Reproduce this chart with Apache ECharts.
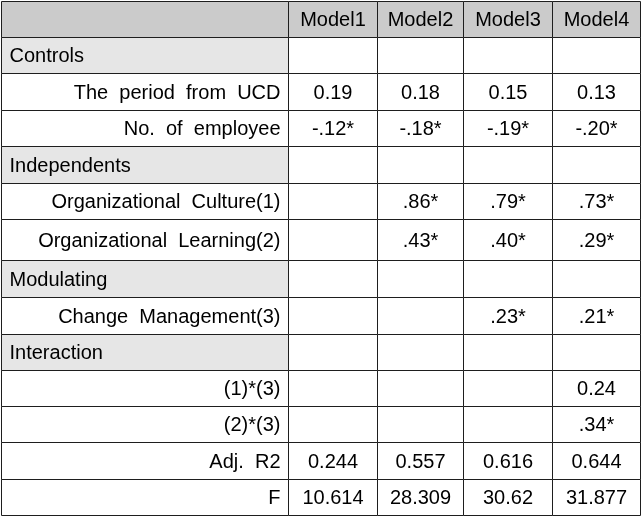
<!DOCTYPE html>
<html>
<head>
<meta charset="utf-8">
<script src="https://cdn.jsdelivr.net/npm/echarts@6/dist/echarts.min.js"></script>
<style>html,body{margin:0;padding:0;background:#fff}#c{width:643px;height:516px}</style>
</head>
<body>
<div id="c"></div>
<script>
// ---- data ----
var models = ['Model1', 'Model2', 'Model3', 'Model4'];
var rowLabels = ['Controls', 'The  period  from  UCD', 'No.  of  employee', 'Independents',
  'Organizational  Culture(1)', 'Organizational  Learning(2)', 'Modulating',
  'Change  Management(3)', 'Interaction', '(1)*(3)', '(2)*(3)', 'Adj.  R2', 'F'];
var sectionRows = ['Controls', 'Independents', 'Modulating', 'Interaction'];
var model1 = ['', '0.19', '-.12*', '', '', '', '', '', '', '', '', '0.244', '10.614'];
var model2 = ['', '0.18', '-.18*', '', '.86*', '.43*', '', '', '', '', '', '0.557', '28.309'];
var model3 = ['', '0.15', '-.19*', '', '.79*', '.40*', '', '.23*', '', '', '', '0.616', '30.62'];
var model4 = ['', '0.13', '-.20*', '', '.73*', '.29*', '', '.21*', '', '0.24', '.34*', '0.644', '31.877'];

// ---- layout (cell edges in axis units) ----
var colEdges = [0, 287, 376, 462, 551, 639];
var rowEdges = [0, 36, 72, 109, 145, 182, 218, 259, 296, 333, 369, 405, 441, 478, 514];

var modelCols = [model1, model2, model3, model4];
var cells = [];
// header row
cells.push([0, 0, '', 'header']);
models.forEach(function (m, i) { cells.push([i + 1, 0, m, 'header']); });
rowLabels.forEach(function (lab, r) {
  var isSec = sectionRows.indexOf(lab) >= 0;
  cells.push([0, r + 1, lab, isSec ? 'section' : 'label']);
  modelCols.forEach(function (col, i) { cells.push([i + 1, r + 1, col[r], 'value']); });
});

var chart = echarts.init(document.getElementById('c'), null, {renderer: 'canvas'});
var FONT = '"Liberation Sans", Arial, sans-serif';
chart.setOption({
  animation: false,
  grid: {left: 1, right: 3, top: 1, bottom: 1},
  xAxis: {type: 'value', min: colEdges[0], max: colEdges[colEdges.length - 1], show: false},
  yAxis: {type: 'value', min: rowEdges[0], max: rowEdges[rowEdges.length - 1], inverse: true, show: false},
  series: [{
    type: 'custom',
    coordinateSystem: 'cartesian2d',
    data: cells,
    renderItem: function (params, api) {
      var c = api.value(0), r = api.value(1);
      var d = cells[params.dataIndex];
      var kind = d[3], txt = d[2];
      var p0 = api.coord([colEdges[c], rowEdges[r]]);
      var p1 = api.coord([colEdges[c + 1], rowEdges[r + 1]]);
      var x0 = Math.round(p0[0]) + 0.5, y0 = Math.round(p0[1]) + 0.5;
      var x1 = Math.round(p1[0]) + 0.5, y1 = Math.round(p1[1]) + 0.5;
      var fill = '#ffffff';
      if (kind === 'header') fill = '#cbcbcb';
      else if (kind === 'section') fill = '#e6e6e6';
      var tx, align;
      if (kind === 'section') { tx = x0 + 8; align = 'left'; }
      else if (kind === 'label') { tx = x1 - 8; align = 'right'; }
      else { tx = (x0 + x1) / 2; align = 'center'; }
      return {
        type: 'group',
        children: [
          {type: 'rect', shape: {x: x0, y: y0, width: x1 - x0, height: y1 - y0},
            style: {fill: fill, stroke: '#1e1e1e', lineWidth: 1}},
          {type: 'text', style: {x: tx, y: (y0 + y1) / 2 + 1, text: txt, align: align,
            verticalAlign: 'middle', fill: '#000', font: '20px ' + FONT}}
        ]
      };
    }
  }]
});
</script>
</body>
</html>
